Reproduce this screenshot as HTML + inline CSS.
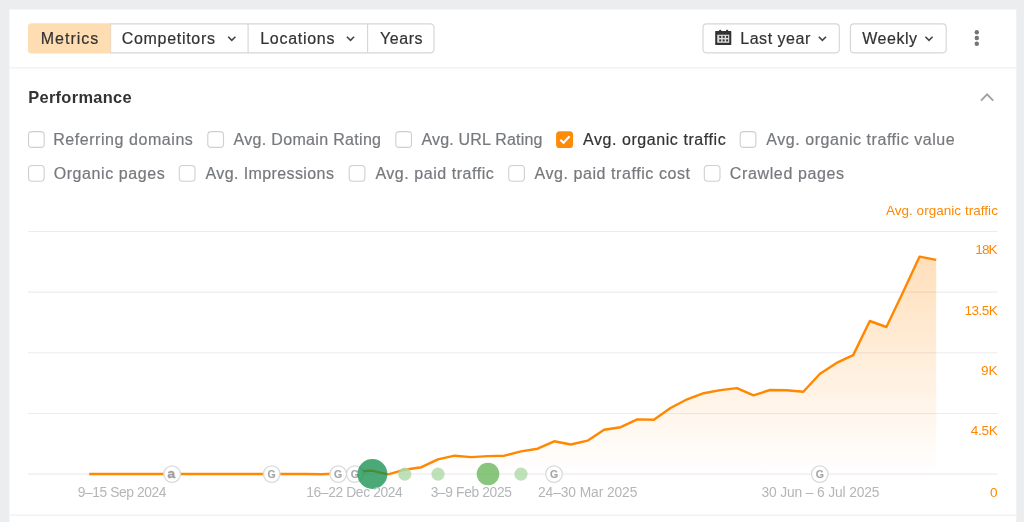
<!DOCTYPE html>
<html lang="en"><head><meta charset="utf-8"><title>Performance</title>
<style>
html,body{margin:0;padding:0;}
body{width:1024px;height:522px;overflow:hidden;background:#ebedee;font-family:"Liberation Sans",sans-serif;color:#333;position:relative;}
.layer{position:absolute;left:0;top:0;}
.t{position:absolute;white-space:nowrap;line-height:0;height:0;transform:translateY(-0.3465em);-webkit-text-stroke:0.2px currentColor;}
.tb{font-size:16px;color:#333;}
.h{font-size:16.4px;font-weight:700;color:#333;-webkit-text-stroke:0;}
.lab{font-size:16px;color:#76797d;}
.lab.on{color:#333;}
.leg{font-size:13.5px;color:#ff8800;-webkit-text-stroke:0;}
.yl{font-size:13.6px;color:#ff8800;-webkit-text-stroke:0;}
.xl{font-size:13.8px;color:#b3b6b9;-webkit-text-stroke:0;}
</style></head>
<body>
<svg class="layer" width="1024" height="522" viewBox="0 0 1024 522">
<defs><linearGradient id="ag" x1="0" y1="256" x2="0" y2="474" gradientUnits="userSpaceOnUse">
<stop offset="0" stop-color="#ff8800" stop-opacity="0.27"/><stop offset="1" stop-color="#ff8800" stop-opacity="0"/></linearGradient></defs>

<rect x="9.4" y="9.5" width="1006.9" height="520" fill="#fff"/>
<line x1="9.4" x2="1016.3" y1="67.9" y2="67.9" stroke="#efefef" stroke-width="1.1"/>
<line x1="9.4" x2="1016.3" y1="515.1" y2="515.1" stroke="#efefef" stroke-width="1.1"/>
<path d="M110.6 23.8 H430.5 a3.5 3.5 0 0 1 3.5 3.5 V49.3 a3.5 3.5 0 0 1 -3.5 3.5 H110.6 Z" fill="#fff" stroke="#d6d6d6" stroke-width="1.15"/>
<line x1="248.1" x2="248.1" y1="23.8" y2="52.8" stroke="#d6d6d6" stroke-width="1.15"/>
<line x1="367.6" x2="367.6" y1="23.8" y2="52.8" stroke="#d6d6d6" stroke-width="1.15"/>
<path d="M110.6 23.2 H31.5 a3.5 3.5 0 0 0 -3.5 3.5 V49.9 a3.5 3.5 0 0 0 3.5 3.5 H110.6 Z" fill="#feddb3"/>
<rect x="703" y="23.8" width="136.3" height="28.999999999999996" rx="3.5" fill="#fff" stroke="#d6d6d6" stroke-width="1.15"/>
<rect x="850.4" y="23.8" width="95.8" height="28.999999999999996" rx="3.5" fill="#fff" stroke="#d6d6d6" stroke-width="1.15"/>
<path d="M228.2 36.8 L231.8 40.4 L235.4 36.8" fill="none" stroke="#444" stroke-width="1.6"/><path d="M346.9 36.8 L350.5 40.4 L354.1 36.8" fill="none" stroke="#444" stroke-width="1.6"/><path d="M818.8 36.8 L822.4 40.4 L826.0 36.8" fill="none" stroke="#444" stroke-width="1.6"/><path d="M925.4 36.8 L929.0 40.4 L932.6 36.8" fill="none" stroke="#444" stroke-width="1.6"/>
<g transform="translate(715.2,29.7)" fill="#333"><path fill-rule="evenodd" d="M0.4 1.3H15.7a0.4 0.4 0 0 1 0.4 0.4V14.8a0.4 0.4 0 0 1-0.4 0.4H0.4a0.4 0.4 0 0 1-0.4-0.4V1.7a0.4 0.4 0 0 1 0.4-0.4z M2.1 5.1V13.1H14V5.1z"/>
<rect x="3.9" y="0" width="2.2" height="2.4" rx="0.9"/><rect x="10.8" y="0" width="2.2" height="2.4" rx="0.9"/>
<rect x="2.1" y="5.1" width="11.9" height="8" fill-opacity="0.16"/>
<rect x="4" y="6.200" width="2" height="2"/><rect x="7.45" y="6.200" width="2" height="2"/><rect x="10.9" y="6.200" width="2" height="2"/><rect x="4" y="9.700" width="2" height="2"/><rect x="7.45" y="9.700" width="2" height="2"/><rect x="10.9" y="9.700" width="2" height="2"/></g>
<g fill="#757575"><circle cx="976.8" cy="32.3" r="2.2"/><circle cx="976.8" cy="38.05" r="2.2"/><circle cx="976.8" cy="43.8" r="2.2"/></g>
<path d="M981 100.6 L987.1 94.4 L993.200 100.6" fill="none" stroke="#a0a0a0" stroke-width="1.9"/>
<rect x="28.50" y="131.65" width="15.7" height="15.7" rx="3.4" fill="#fff" stroke="#cfcfcf" stroke-width="1.1"/><rect x="207.80" y="131.65" width="15.7" height="15.7" rx="3.4" fill="#fff" stroke="#cfcfcf" stroke-width="1.1"/><rect x="395.80" y="131.65" width="15.7" height="15.7" rx="3.4" fill="#fff" stroke="#cfcfcf" stroke-width="1.1"/><rect x="556.1" y="131.2" width="17" height="16.8" rx="3.6" fill="#ff8a05"/><path d="M560.3 139.8 L563.5 142.8 L569.6 136.2" fill="none" stroke="#fff" stroke-width="2.1"/><rect x="740.20" y="131.65" width="15.7" height="15.7" rx="3.4" fill="#fff" stroke="#cfcfcf" stroke-width="1.1"/><rect x="28.50" y="165.55" width="15.7" height="15.7" rx="3.4" fill="#fff" stroke="#cfcfcf" stroke-width="1.1"/><rect x="179.30" y="165.55" width="15.7" height="15.7" rx="3.4" fill="#fff" stroke="#cfcfcf" stroke-width="1.1"/><rect x="349.20" y="165.55" width="15.7" height="15.7" rx="3.4" fill="#fff" stroke="#cfcfcf" stroke-width="1.1"/><rect x="508.70" y="165.55" width="15.7" height="15.7" rx="3.4" fill="#fff" stroke="#cfcfcf" stroke-width="1.1"/><rect x="704.30" y="165.55" width="15.7" height="15.7" rx="3.4" fill="#fff" stroke="#cfcfcf" stroke-width="1.1"/>

<line x1="28" x2="997.5" y1="231.5" y2="231.5" stroke="#ececec" stroke-width="1.1"/><line x1="28" x2="997.5" y1="292.15" y2="292.15" stroke="#ececec" stroke-width="1.1"/><line x1="28" x2="997.5" y1="352.8" y2="352.8" stroke="#ececec" stroke-width="1.1"/><line x1="28" x2="997.5" y1="413.45" y2="413.45" stroke="#ececec" stroke-width="1.1"/><line x1="28" x2="997.5" y1="474.1" y2="474.1" stroke="#ececec" stroke-width="1.1"/>
<path d="M89.2,474.0 L105.9,474.0 L122.5,474.0 L139.1,474.0 L155.7,474.0 L172.3,474.0 L188.9,474.0 L205.5,474.0 L222.1,474.0 L238.7,474.0 L255.3,474.0 L271.9,474.0 L288.5,474.0 L305.1,474.0 L321.7,474.2 L338.4,473.5 L355.0,471.5 L371.6,470.7 L388.2,474.3 L404.8,469.7 L421.4,467.2 L438.0,459.3 L454.6,455.7 L471.2,457.1 L487.8,456.1 L504.4,455.7 L521.0,451.4 L537.6,448.7 L554.2,441.3 L570.8,444.5 L587.5,440.7 L604.1,429.7 L620.7,427.2 L637.3,419.4 L653.9,419.8 L670.5,408.0 L687.1,399.3 L703.7,393.2 L720.3,390.1 L736.9,388.1 L753.5,395.3 L770.1,390.0 L786.7,390.2 L803.3,391.8 L820.0,373.8 L836.6,362.9 L853.2,355.1 L869.8,321.0 L886.4,327.0 L903.0,292.3 L919.6,256.6 L936.2,259.9 L936.2,474 L89.2,474 Z" fill="url(#ag)"/>
<path d="M89.2,474.0 L105.9,474.0 L122.5,474.0 L139.1,474.0 L155.7,474.0 L172.3,474.0 L188.9,474.0 L205.5,474.0 L222.1,474.0 L238.7,474.0 L255.3,474.0 L271.9,474.0 L288.5,474.0 L305.1,474.0 L321.7,474.2 L338.4,473.5 L355.0,471.5 L371.6,470.7 L388.2,474.3 L404.8,469.7 L421.4,467.2 L438.0,459.3 L454.6,455.7 L471.2,457.1 L487.8,456.1 L504.4,455.7 L521.0,451.4 L537.6,448.7 L554.2,441.3 L570.8,444.5 L587.5,440.7 L604.1,429.7 L620.7,427.2 L637.3,419.4 L653.9,419.8 L670.5,408.0 L687.1,399.3 L703.7,393.2 L720.3,390.1 L736.9,388.1 L753.5,395.3 L770.1,390.0 L786.7,390.2 L803.3,391.8 L820.0,373.8 L836.6,362.9 L853.2,355.1 L869.8,321.0 L886.4,327.0 L903.0,292.3 L919.6,256.6 L936.2,259.9" fill="none" stroke="#ff8800" stroke-width="2.4" stroke-linejoin="round"/>
<g font-family="Liberation Sans, sans-serif"><circle cx="172.1" cy="474.1" r="8.3" fill="#fff" stroke="#dadada" stroke-width="1.3"/><text x="171.4" y="478" text-anchor="middle" font-size="13.6" font-weight="700" fill="#a2a2a2" stroke="#a2a2a2" stroke-width="0.5">a</text><circle cx="271.7" cy="474.1" r="8.3" fill="#fff" stroke="#dadada" stroke-width="1.3"/><text x="267.6" y="478.1" textLength="8.200" lengthAdjust="spacingAndGlyphs" font-size="10.200" font-weight="700" fill="#a6a6a6" stroke="#a6a6a6" stroke-width="0.15">G</text><circle cx="338.2" cy="474.1" r="8.3" fill="#fff" stroke="#dadada" stroke-width="1.3"/><text x="334.1" y="478.1" textLength="8.200" lengthAdjust="spacingAndGlyphs" font-size="10.200" font-weight="700" fill="#a6a6a6" stroke="#a6a6a6" stroke-width="0.15">G</text><circle cx="354.8" cy="474.1" r="8.3" fill="#fff" stroke="#dadada" stroke-width="1.3"/><text x="350.7" y="478.1" textLength="8.200" lengthAdjust="spacingAndGlyphs" font-size="10.200" font-weight="700" fill="#a6a6a6" stroke="#a6a6a6" stroke-width="0.15">G</text><circle cx="554.0" cy="474.1" r="8.3" fill="#fff" stroke="#dadada" stroke-width="1.3"/><text x="549.9" y="478.1" textLength="8.200" lengthAdjust="spacingAndGlyphs" font-size="10.200" font-weight="700" fill="#a6a6a6" stroke="#a6a6a6" stroke-width="0.15">G</text><circle cx="819.8" cy="474.1" r="8.3" fill="#fff" stroke="#dadada" stroke-width="1.3"/><text x="815.7" y="478.1" textLength="8.200" lengthAdjust="spacingAndGlyphs" font-size="10.200" font-weight="700" fill="#a6a6a6" stroke="#a6a6a6" stroke-width="0.15">G</text></g>
<g fill="#aedaa9" fill-opacity="0.8"><circle cx="404.8" cy="474.1" r="6.6"/><circle cx="438.0" cy="474.1" r="6.6"/><circle cx="521.0" cy="474.1" r="6.6"/></g>
<circle cx="488" cy="474" r="11.3" fill="#67b558" fill-opacity="0.78"/>
<circle cx="372.4" cy="474" r="15" fill="#0e8c4a" fill-opacity="0.75"/>
</svg>
<span class="t tb" style="left:40.75px;top:44.5px;letter-spacing:1.0px">Metrics</span>
<span class="t tb" style="left:121.75px;top:44.5px;letter-spacing:0.69px">Competitors</span>
<span class="t tb" style="left:260.15px;top:44.5px;letter-spacing:0.731px">Locations</span>
<span class="t tb" style="left:379.90px;top:44.5px;letter-spacing:0.588px">Years</span>
<span class="t tb" style="left:740.25px;top:44.5px;letter-spacing:0.531px">Last year</span>
<span class="t tb" style="left:862.25px;top:44.5px;letter-spacing:0.53px">Weekly</span>
<span class="t h" style="left:28.25px;top:103.1px;letter-spacing:0.31px">Performance</span>
<span class="t lab" style="left:53.15px;top:145.5px;letter-spacing:0.562px">Referring domains</span>
<span class="t lab" style="left:233.60px;top:145.5px;letter-spacing:0.318px">Avg. Domain Rating</span>
<span class="t lab" style="left:421.50px;top:145.5px;letter-spacing:0.189px">Avg. URL Rating</span>
<span class="t lab on" style="left:583.00px;top:145.5px;letter-spacing:0.566px">Avg. organic traffic</span>
<span class="t lab" style="left:766.25px;top:145.5px;letter-spacing:0.554px">Avg. organic traffic value</span>
<span class="t lab" style="left:53.65px;top:179.5px;letter-spacing:0.592px">Organic pages</span>
<span class="t lab" style="left:205.50px;top:179.5px;letter-spacing:0.4px">Avg. Impressions</span>
<span class="t lab" style="left:375.40px;top:179.5px;letter-spacing:0.547px">Avg. paid traffic</span>
<span class="t lab" style="left:534.50px;top:179.5px;letter-spacing:0.571px">Avg. paid traffic cost</span>
<span class="t lab" style="left:729.85px;top:179.5px;letter-spacing:0.625px">Crawled pages</span>
<span class="t leg" style="left:885.90px;top:215.9px;letter-spacing:0.037px">Avg. organic traffic</span>
<span class="t yl" style="left:975.20px;top:254.6px;letter-spacing:-0.85px">18K</span>
<span class="t yl" style="left:964.50px;top:315.6px;letter-spacing:-0.562px">13.5K</span>
<span class="t yl" style="left:981.00px;top:375.6px;letter-spacing:0.0px">9K</span>
<span class="t yl" style="left:970.75px;top:436.1px;letter-spacing:-0.333px">4.5K</span>
<span class="t yl" style="left:990.10px;top:497.5px;letter-spacing:0px">0</span>
<span class="t xl" style="left:77.75px;top:497.5px;letter-spacing:-0.408px">9–15 Sep 2024</span>
<span class="t xl" style="left:306.20px;top:497.5px;letter-spacing:-0.358px">16–22 Dec 2024</span>
<span class="t xl" style="left:430.70px;top:497.5px;letter-spacing:-0.359px">3–9 Feb 2025</span>
<span class="t xl" style="left:538.00px;top:497.5px;letter-spacing:-0.085px">24–30 Mar 2025</span>
<span class="t xl" style="left:761.40px;top:497.5px;letter-spacing:-0.133px">30 Jun – 6 Jul 2025</span>
</body></html>
